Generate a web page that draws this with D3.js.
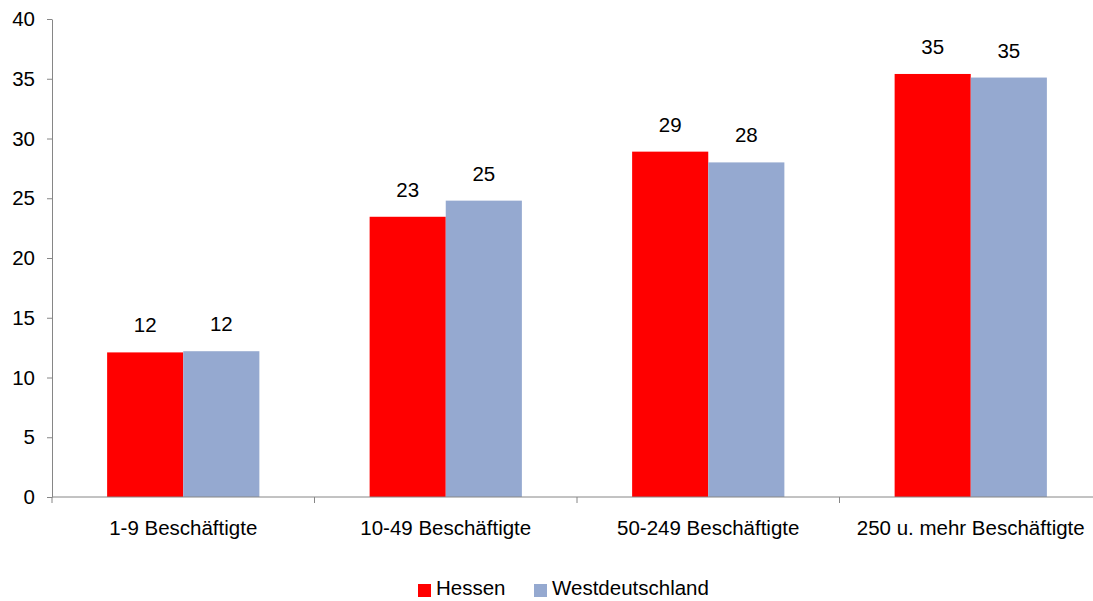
<!DOCTYPE html>
<html>
<head>
<meta charset="utf-8">
<script src="https://cdn.jsdelivr.net/npm/d3@7"></script>
<style>
  html, body { margin: 0; padding: 0; background: #fff; }
  svg text { font-family: "Liberation Sans", Arial, sans-serif; fill: #000; }
</style>
</head>
<body>
<svg id="chart" width="1093" height="601"></svg>
<script>
// Betriebsgrößenklassen
const categories = ["1-9 Beschäftigte", "10-49 Beschäftigte", "50-249 Beschäftigte", "250 u. mehr Beschäftigte"];
const seriesNames = ["Hessen", "Westdeutschland"];
const hessen = [12.1, 23.45, 28.9, 35.4];
const westdeutschland = [12.2, 24.8, 28.0, 35.1];
const yTicks = [0, 5, 10, 15, 20, 25, 30, 35, 40];
const colors = ["#ff0000", "#95a9d0"];

const series = [hessen, westdeutschland];
const svg = d3.select("#chart");
const fontSize = 20.5;

const plot = { left: 52, right: 1102, top: 19, bottom: 497 };

const x = d3.scaleBand()
  .domain(categories)
  .range([plot.left, plot.right])
  .paddingInner(0.42)
  .paddingOuter(0.21);

const xs = d3.scaleBand()
  .domain(seriesNames)
  .range([0, x.bandwidth()]);

const y = d3.scaleLinear().domain([0, 40]).range([plot.bottom, plot.top]);

// Y axis
const yAxis = svg.append("g")
  .attr("transform", `translate(${plot.left},0)`)
  .call(d3.axisLeft(y).tickValues(yTicks).tickSize(5).tickSizeOuter(0).tickPadding(12));
yAxis.select(".domain").attr("stroke", "#868686");
yAxis.selectAll(".tick line").attr("stroke", "#868686");
yAxis.selectAll(".tick text")
  .attr("font-size", fontSize)
  .attr("font-family", "Liberation Sans, Arial, sans-serif")
  .attr("fill", "#000");

// Bars with value labels
categories.forEach((c, i) => {
  series.forEach((vals, s) => {
    svg.append("rect")
      .attr("x", x(c) + xs(seriesNames[s]))
      .attr("y", y(vals[i]))
      .attr("width", xs.bandwidth())
      .attr("height", y(0) - y(vals[i]))
      .attr("fill", colors[s]);
    svg.append("text")
      .attr("x", x(c) + xs(seriesNames[s]) + xs.bandwidth() / 2)
      .attr("y", y(vals[i]) - 20)
      .attr("text-anchor", "middle")
      .attr("font-size", fontSize)
      .text(Math.round(vals[i]));
  });
});

// X axis line with tick marks between categories
svg.append("line")
  .attr("x1", plot.left).attr("x2", plot.right)
  .attr("y1", y(0)).attr("y2", y(0))
  .attr("stroke", "#868686");
const step = x.step();
const boundaries = d3.range(categories.length + 1).map(k => plot.left + k * step);
svg.selectAll(".xtick")
  .data(boundaries)
  .join("line")
  .attr("x1", d => d).attr("x2", d => d)
  .attr("y1", y(0)).attr("y2", y(0) + 6)
  .attr("stroke", "#868686");

svg.selectAll(".xlabel")
  .data(categories)
  .join("text")
  .attr("x", d => x(d) + x.bandwidth() / 2)
  .attr("y", 535)
  .attr("text-anchor", "middle")
  .attr("font-size", fontSize)
  .text(d => d);

// Legend
const legendX = [418, 534];
seriesNames.forEach((name, s) => {
  svg.append("rect")
    .attr("x", legendX[s]).attr("y", 584)
    .attr("width", 13).attr("height", 13)
    .attr("fill", colors[s]);
  svg.append("text")
    .attr("x", legendX[s] + 18).attr("y", 595)
    .attr("font-size", fontSize)
    .text(name);
});
</script>
</body>
</html>
